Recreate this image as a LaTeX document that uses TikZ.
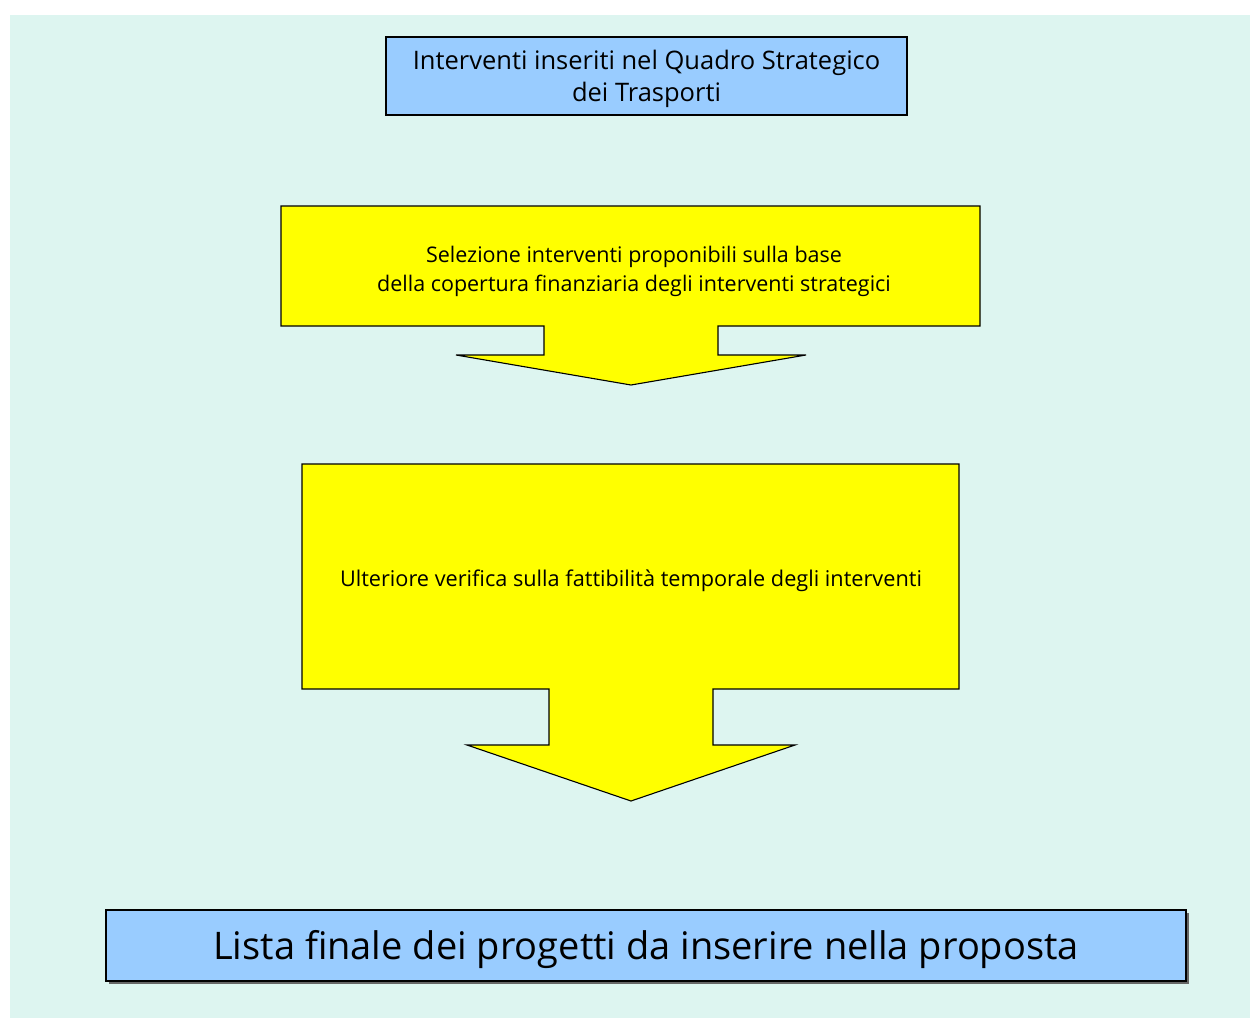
\documentclass[tikz,border=0pt]{standalone}
\usepackage{fontspec}
\setmainfont{Open Sans}
\definecolor{bgc}{RGB}{221,245,240}
\definecolor{boxblue}{RGB}{153,204,255}
\definecolor{arrowyellow}{RGB}{255,255,0}
\tikzset{
  bluebox/.style={draw=black, fill=boxblue, line width=1.2pt},
  yellowarrow/.style={draw=black, fill=arrowyellow, line width=1.1pt, line join=miter},
  label/.style={align=center, text=black, inner sep=0pt}
}
\begin{document}
\begin{tikzpicture}[x=1pt,y=-1pt]
\useasboundingbox (0,0) rectangle (1250,1018);
\fill[white] (0,0) rectangle (1250,1018);
\fill[bgc] (10,15) rectangle (1250,1018);
% top box
\draw[bluebox] (386,37) rectangle (907,115);
\node[label, font=\fontsize{25.5}{32}\selectfont] (top) at (646.5,79) {Interventi inseriti nel Quadro Strategico\\dei Trasporti};
% arrow 1
\draw[yellowarrow] (281,206) -- (980,206) -- (980,326) -- (718,326) -- (718,355) -- (806,355) -- (631,385) -- (456,355) -- (544,355) -- (544,326) -- (281,326) -- cycle;
\node[label, font=\fontsize{21.5}{29}\selectfont] (sel) at (634,271) {Selezione interventi proponibili sulla base\\della copertura finanziaria degli interventi strategici};
% arrow 2
\draw[yellowarrow] (302,464) -- (959,464) -- (959,689) -- (713,689) -- (713,745) -- (795,745) -- (631,801) -- (467,745) -- (549,745) -- (549,689) -- (302,689) -- cycle;
\node[label, font=\fontsize{21.7}{26}\selectfont] (ver) at (631,581) {Ulteriore verifica sulla fattibilità temporale degli interventi};
% bottom box
\fill[black!60] (109,913) rectangle (1189,984);
\draw[bluebox] (106,910) rectangle (1186,981);
\node[label, font=\fontsize{38}{44}\selectfont] (list) at (646,950) {Lista finale dei progetti da inserire nella proposta};
\end{tikzpicture}
\end{document}
